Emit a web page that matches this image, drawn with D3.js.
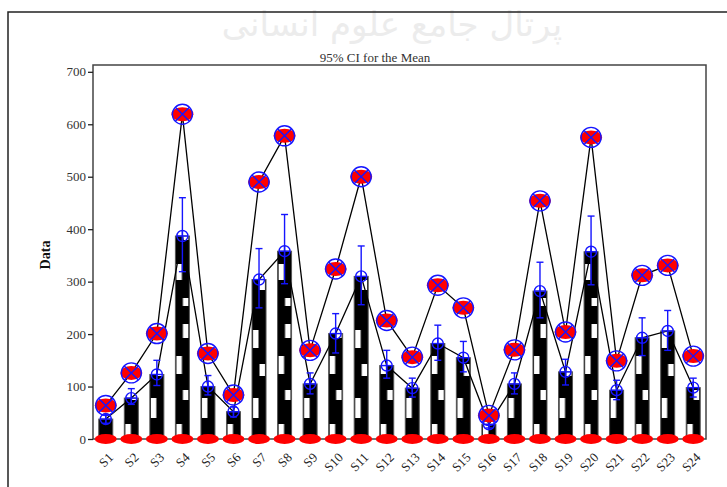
<!DOCTYPE html>
<html>
<head>
<meta charset="utf-8">
<script src="https://cdn.jsdelivr.net/npm/d3@7"></script>
<style>
  body { margin: 0; background: #fff; }
  svg text { font-family: "Liberation Serif", "DejaVu Serif", serif; }
</style>
</head>
<body>
<svg id="chart"></svg>
<script>
const width = 727, height = 487;
const margin = {top: 65, right: 21, bottom: 48, left: 93};

// data
const categories = ['S1','S2','S3','S4','S5','S6','S7','S8','S9','S10','S11','S12',
  'S13','S14','S15','S16','S17','S18','S19','S20','S21','S22','S23','S24'];
const means = [38, 78, 123, 387, 100, 52, 304, 358, 105, 201, 310, 140,
  97, 182, 155, 28, 105, 282, 128, 357, 93, 193, 206, 98];
const ciLow = [30, 66, 102, 319, 84, 42, 250, 296, 86, 164, 256, 116,
  80, 150, 128, 21, 86, 231, 103, 294, 75, 159, 169, 80];
const ciHigh = [46, 96, 150, 460, 121, 61, 363, 428, 126, 239, 368, 169,
  116, 217, 186, 35, 126, 337, 152, 425, 112, 231, 245, 116];
const maxima = [64, 126, 201, 619, 163, 84, 490, 578, 169, 324, 500, 226,
  156, 293, 250, 45, 170, 454, 204, 575, 149, 312, 331, 158];
const minima = categories.map(() => 0);
const yTicks = [0, 100, 200, 300, 400, 500, 600, 700];

const svg = d3.select('#chart').attr('width', width).attr('height', height);

// watermark
svg.append('text')
  .attr('x', 392).attr('y', 36)
  .attr('text-anchor', 'middle')
  .style('font-family', '"DejaVu Sans", sans-serif')
  .style('font-size', '34px')
  .attr('fill', '#ececec')
  .text('پرتال جامع علوم انسانی');

// outer frame
svg.append('rect')
  .attr('x', 8).attr('y', 12).attr('width', 740).attr('height', 500)
  .attr('fill', 'none').attr('stroke', '#222').attr('stroke-width', 1.5);

const x = d3.scaleBand()
  .domain(categories)
  .range([margin.left, width - margin.right])
  .paddingInner(0).paddingOuter(0);

const y = d3.scaleLinear()
  .domain([0, 713])
  .range([height - margin.bottom, margin.top]);

// checker pattern for bars (tile spans two bands so neighbours differ)
const step = x.step();
const barW = 14;
const barOff = (step - barW) / 2;
const defs = svg.append('defs');
const pat = defs.append('pattern')
  .attr('id', 'checks')
  .attr('patternUnits', 'userSpaceOnUse')
  .attr('x', margin.left).attr('y', 0)
  .attr('width', step * 2).attr('height', 160);
pat.append('rect').attr('width', step * 2).attr('height', 160).attr('fill', '#000');
const patches = [
  [0, 0, 10, 18], [0, 1, 44, 12], [0, 0, 78, 20], [0, 1, 120, 10],
  [1, 1, 4, 14], [1, 0, 36, 18], [1, 1, 70, 10], [1, 0, 104, 16], [1, 1, 138, 8]
];
patches.forEach(([band, col, py, ph]) => {
  pat.append('rect')
    .attr('x', band * step + barOff + 1 + col * (barW / 2 - 0.5))
    .attr('y', py).attr('width', barW / 2 - 1.5).attr('height', ph)
    .attr('fill', '#fff');
});

// bars
svg.append('g').selectAll('rect')
  .data(categories)
  .join('rect')
  .attr('x', (d) => x(d) + barOff)
  .attr('y', (d, i) => y(means[i]))
  .attr('width', barW)
  .attr('height', (d, i) => y(0) - y(means[i]))
  .attr('fill', 'url(#checks)')
  .attr('stroke', '#555')
  .attr('stroke-width', 1);

// plot frame
svg.append('rect')
  .attr('x', margin.left).attr('y', margin.top)
  .attr('width', width - margin.left - margin.right)
  .attr('height', y(0) - margin.top)
  .attr('fill', 'none').attr('stroke', '#444').attr('stroke-width', 1.5);

// y axis
const yAxis = svg.append('g')
  .attr('transform', `translate(${margin.left},0)`)
  .call(d3.axisLeft(y).tickValues(yTicks).tickSize(5).tickSizeOuter(0).tickFormat(d3.format('d')));
yAxis.select('.domain').remove();
yAxis.selectAll('line').attr('stroke', '#222').attr('stroke-width', 1.3);
yAxis.selectAll('text')
  .style('font-size', '13px').attr('fill', '#333').attr('x', -7);

svg.append('text')
  .attr('transform', 'translate(50,255) rotate(-90)')
  .attr('text-anchor', 'middle')
  .style('font-size', '14px').style('font-weight', 'bold')
  .attr('fill', '#111')
  .text('Data');

// x labels, rotated
const cx = (d) => x(d) + step / 2;
svg.append('g').selectAll('text')
  .data(categories)
  .join('text')
  .attr('x', (d) => cx(d) + 5)
  .attr('y', 455)
  .attr('transform', (d) => `rotate(-45 ${cx(d) + 5} 455)`)
  .attr('text-anchor', 'end')
  .attr('dy', '0.35em')
  .style('font-size', '13px')
  .attr('fill', '#222')
  .text((d) => d);

svg.append('text')
  .attr('x', 375).attr('y', 62)
  .attr('text-anchor', 'middle')
  .style('font-size', '13px').attr('fill', '#333')
  .text('95% CI for the Mean');

// red min markers
svg.append('g').selectAll('ellipse')
  .data(minima)
  .join('ellipse')
  .attr('cx', (d, i) => cx(categories[i]))
  .attr('cy', (d) => y(d))
  .attr('rx', 11).attr('ry', 5)
  .attr('fill', '#ff0000');

// connecting lines
const line = d3.line().x((d, i) => cx(categories[i])).y((d) => y(d));
svg.append('path').datum(maxima).attr('d', line)
  .attr('fill', 'none').attr('stroke', '#000').attr('stroke-width', 1.3);
svg.append('path').datum(means).attr('d', line)
  .attr('fill', 'none').attr('stroke', '#000').attr('stroke-width', 1.3);

// CI bars
const ci = svg.append('g').attr('stroke', '#1515ff').attr('stroke-width', 1.4);
categories.forEach((c, i) => {
  ci.append('line').attr('x1', cx(c)).attr('x2', cx(c)).attr('y1', y(ciLow[i])).attr('y2', y(ciHigh[i]));
  ci.append('line').attr('x1', cx(c) - 3.5).attr('x2', cx(c) + 3.5).attr('y1', y(ciLow[i])).attr('y2', y(ciLow[i]));
  ci.append('line').attr('x1', cx(c) - 3.5).attr('x2', cx(c) + 3.5).attr('y1', y(ciHigh[i])).attr('y2', y(ciHigh[i]));
});

// mean markers
const mm = svg.append('g').attr('stroke', '#1515ff').attr('stroke-width', 1.4).attr('fill', 'none');
categories.forEach((c, i) => {
  const px = cx(c), py = y(means[i]);
  mm.append('circle').attr('cx', px).attr('cy', py).attr('r', 5.5);
  mm.append('line').attr('x1', px - 5.5).attr('x2', px + 5.5).attr('y1', py).attr('y2', py);
  mm.append('line').attr('x1', px).attr('x2', px).attr('y1', py - 5.5).attr('y2', py + 5.5);
});

// max markers
const mx = svg.append('g');
categories.forEach((c, i) => {
  const px = cx(c), py = y(maxima[i]);
  mx.append('ellipse').attr('cx', px).attr('cy', py).attr('rx', 11).attr('ry', 7).attr('fill', '#ff0000');
  mx.append('circle').attr('cx', px).attr('cy', py).attr('r', 10)
    .attr('fill', 'none').attr('stroke', '#1515ff').attr('stroke-width', 1.4);
  const k = 7;
  mx.append('path')
    .attr('d', `M${px - k},${py - k}L${px + k},${py + k}M${px - k},${py + k}L${px + k},${py - k}`)
    .attr('stroke', '#1515ff').attr('stroke-width', 1.4);
});
</script>
</body>
</html>
